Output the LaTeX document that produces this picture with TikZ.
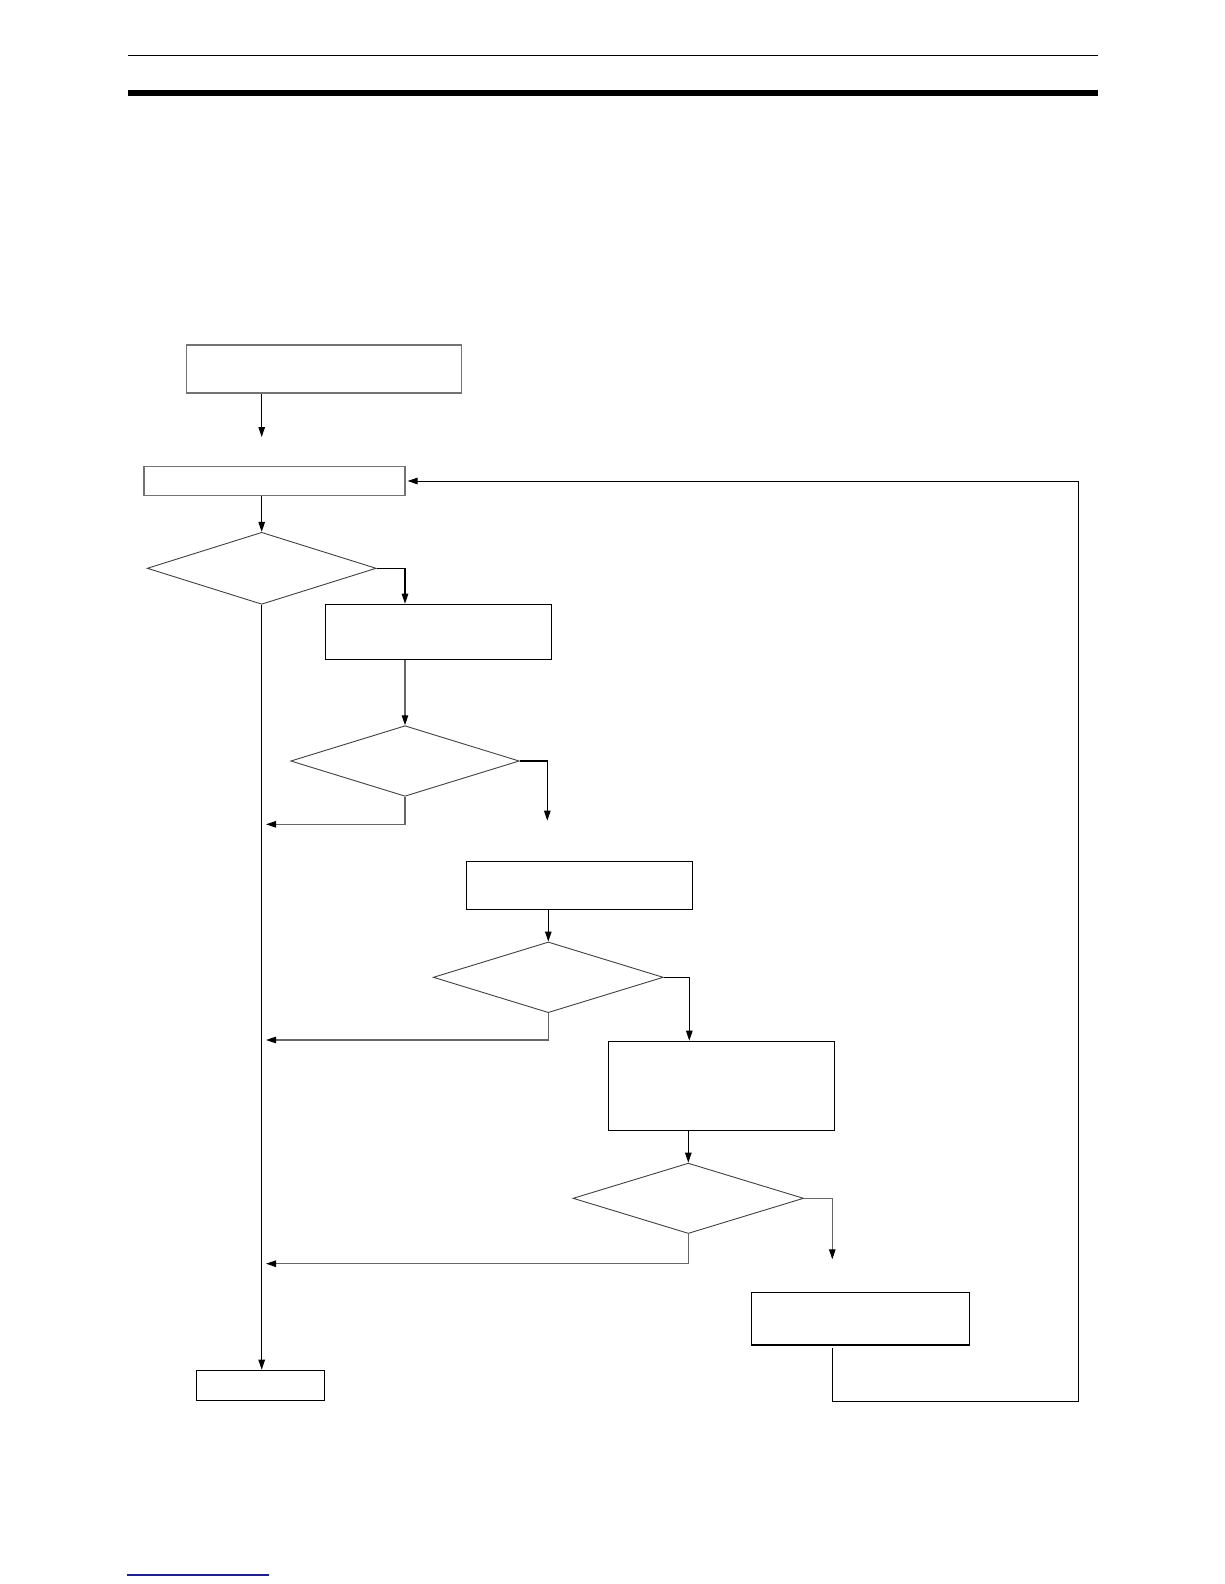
\documentclass[tikz,border=0pt]{standalone}
\usetikzlibrary{arrows.meta,shapes.geometric}
\definecolor{navyline}{RGB}{30,30,140}
\begin{document}
\begin{tikzpicture}[x=1pt,y=-1pt,
  box/.style={draw=black,line width=1.2pt,rectangle,inner sep=0pt},
  greybox/.style={draw=black!55,line width=1.2pt,rectangle,inner sep=0pt},
  dec/.style={draw=black!75,line width=0.9pt,diamond,inner sep=0pt},
  conn/.style={draw=black,line width=1.1pt,-{Triangle[length=10pt,width=6.5pt]}},
  greyconn/.style={draw=black!60,line width=1.1pt,-{Triangle[length=10pt,width=6.5pt,color=black]}},
  plain/.style={draw=black,line width=1.1pt}]
\useasboundingbox (0,0) rectangle (1224,1584);
% page rules
\draw[line width=1.4pt] (128,55.5) -- (1098,55.5);
\fill (128,90) rectangle (1098,96);
\draw[navyline,line width=1.3pt] (127,1575) -- (269,1575);
% nodes
\node[greybox,minimum width=275pt,minimum height=48pt] (b1) at (324.3,369) {};
\node[greybox,minimum width=261pt,minimum height=29pt] (b2) at (274.5,481) {};
\node[dec,minimum width=229pt,minimum height=72pt] (d1) at (261.7,568.3) {};
\node[box,minimum width=226.4pt,minimum height=55pt] (b3) at (438.5,631.8) {};
\node[dec,minimum width=228.6pt,minimum height=70.6pt] (d2) at (405,761) {};
\node[box,minimum width=226.4pt,minimum height=48pt] (b4) at (579.5,885.3) {};
\node[dec,minimum width=230pt,minimum height=70.7pt] (d3) at (548.3,977.3) {};
\node[box,minimum width=226pt,minimum height=89pt] (b5) at (721.3,1085.8) {};
\node[dec,minimum width=230.6pt,minimum height=70.4pt] (d4) at (688.3,1198.3) {};
\node[box,minimum width=218pt,minimum height=52.7pt] (b6) at (860.3,1318.7) {};
\node[box,minimum width=128pt,minimum height=30pt] (fin) at (260.3,1385.3) {};
% free ends
\coordinate (e1) at (261.7,437);
\coordinate (e2) at (547.3,820.7);
\coordinate (e4) at (832.3,1259.3);
\coordinate (j2) at (266,824.3);
\coordinate (j3) at (266,1040);
\coordinate (j4) at (266,1263.7);
\coordinate (s6) at (832.3,1348.3);
\coordinate (cr) at (1078.3,1401);
% connectors
\draw[conn] (b1.south -| e1) -- (e1);
\draw[conn] (b2.south -| d1.north) -- (d1.north);
\draw[conn] (d1.east) -| (b3.north -| 405,0);
\draw[greyconn] (b3.south -| d2.north) -- (d2.north);
\draw[conn] (d2.east) -| (e2);
\draw[greyconn] (d2.south) |- (j2);
\draw[conn] (b4.south -| d3.north) -- (d3.north);
\draw[conn] (d3.east) -| (b5.north -| 689.3,0);
\draw[greyconn] (d3.south) |- (j3);
\draw[conn] (b5.south -| d4.north) -- (d4.north);
\draw[greyconn] (d4.east) -| (e4);
\draw[greyconn] (d4.south) |- (j4);
\draw[conn] (d1.south) -- (fin.north -| d1.south);
\draw[conn,line width=1pt] (s6) |- (cr) |- ([xshift=2pt]b2.east);
\end{tikzpicture}
\end{document}
